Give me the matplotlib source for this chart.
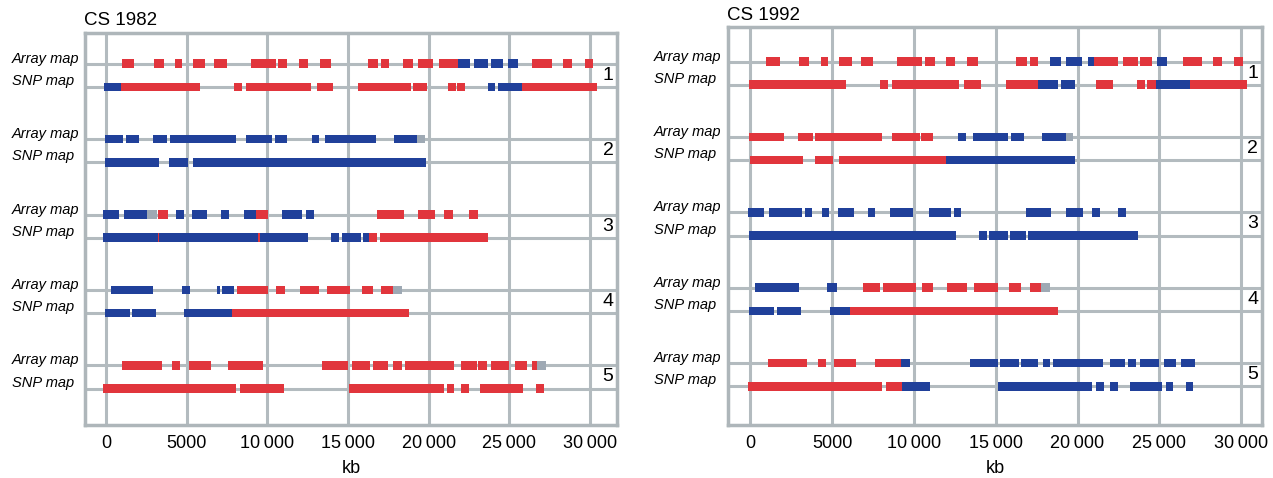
import matplotlib

matplotlib.use("Agg")
import matplotlib.pyplot as plt
from matplotlib.ticker import FuncFormatter

plt.rcParams["font.family"] = ["Liberation Sans", "DejaVu Sans"]

# --------------------------------------------------------------------------- #
# Datos: segmentos (color, inicio kb, fin kb); r = rojo, b = azul, g = gris
# --------------------------------------------------------------------------- #
cs1982_chr1_array = [
    ("r", 970, 1760), ("r", 3000, 3600), ("r", 4280, 4730), ("r", 5370, 6160),
    ("r", 6720, 7520), ("r", 8990, 10540), ("r", 10680, 11240), ("r", 11980, 12540),
    ("r", 13260, 13950), ("r", 16260, 16840), ("r", 17050, 17560), ("r", 18390, 19010),
    ("r", 19360, 20290), ("r", 20660, 21800), ("b", 21800, 22560), ("b", 22830, 23700),
    ("b", 23860, 24590), ("b", 24940, 25560), ("r", 26380, 27620), ("r", 28350, 28860),
    ("r", 29690, 30160),
]
cs1982_chr1_snp = [
    ("b", -100, 910), ("r", 910, 5830), ("r", 7930, 8450), ("r", 8660, 12710),
    ("r", 13060, 14090), ("r", 15640, 18880), ("r", 19050, 19880), ("r", 21180, 21670),
    ("r", 21780, 22250), ("b", 23660, 24110), ("b", 24320, 25800), ("r", 25800, 30410),
]
cs1982_chr2_array = [
    ("b", -60, 1070), ("b", 1240, 2070), ("b", 2930, 3800), ("b", 3970, 8060),
    ("b", 8680, 10270), ("b", 10470, 11200), ("b", 12750, 13220), ("b", 13570, 16740),
    ("b", 17850, 19300), ("g", 19300, 19770),
]
cs1982_chr2_snp = [("b", -60, 3290), ("b", 3900, 5060), ("b", 5410, 19830)]
cs1982_chr3_array = [
    ("b", -160, 830), ("b", 1120, 2520), ("g", 2560, 3140), ("r", 3240, 3820),
    ("b", 4320, 4830), ("b", 5310, 6280), ("b", 7110, 7640), ("b", 8550, 9300),
    ("r", 9300, 10020), ("b", 10930, 12170), ("b", 12400, 12890), ("r", 16820, 18470),
    ("r", 19320, 20390), ("r", 20950, 21490), ("r", 22500, 23040),
]
cs1982_chr3_snp = [
    ("b", -160, 3200), ("r", 3200, 3310), ("b", 3310, 9440), ("r", 9440, 9550),
    ("b", 9550, 12540), ("b", 13930, 14460), ("b", 14630, 15780), ("b", 15950, 16330),
    ("r", 16330, 16820), ("r", 16980, 23700),
]
cs1982_chr4_array = [
    ("b", 290, 2930), ("b", 4690, 5210), ("b", 6900, 7070), ("b", 7210, 7930),
    ("r", 8140, 10060), ("r", 10520, 11100), ("r", 12020, 13220), ("r", 13680, 15120),
    ("r", 15850, 16570), ("r", 17020, 17810), ("g", 17810, 18330),
]
cs1982_chr4_snp = [("b", -60, 1490), ("b", 1590, 3080), ("b", 4860, 7790), ("r", 7790, 18800)]
cs1982_chr5_array = [
    ("r", 1010, 3450), ("r", 4070, 4590), ("r", 5140, 6490), ("r", 7540, 9750),
    ("r", 13410, 15020), ("r", 15270, 16360), ("r", 16570, 17500), ("r", 17810, 18370),
    ("r", 18530, 21570), ("r", 21980, 22970), ("r", 23080, 23590), ("r", 23860, 25000),
    ("r", 25350, 26110), ("r", 26380, 26730), ("g", 26730, 27270),
]
cs1982_chr5_snp = [
    ("r", -200, 8040), ("r", 8310, 11030), ("r", 15080, 20950), ("r", 21120, 21590),
    ("r", 22000, 22520), ("r", 23180, 25830), ("r", 26650, 27150),
]

cs1992_chr1_array = [
    ("r", 980, 1780), ("r", 2990, 3600), ("r", 4290, 4740), ("r", 5390, 6210),
    ("r", 6750, 7520), ("r", 8990, 10510), ("r", 10660, 11290), ("r", 11980, 12480),
    ("r", 13230, 13940), ("r", 16240, 16930), ("r", 17080, 17560), ("b", 18290, 19020),
    ("b", 19290, 20270), ("b", 20630, 21000), ("r", 21000, 22470), ("r", 22780, 23680),
    ("r", 23830, 24560), ("b", 24870, 25500), ("r", 26440, 27590), ("r", 28280, 28840),
    ("r", 29570, 30100),
]
cs1992_chr1_snp = [
    ("r", -60, 5850), ("r", 7940, 8420), ("r", 8670, 12750), ("r", 13060, 14110),
    ("r", 15630, 17560), ("b", 17560, 18810), ("b", 19020, 19860), ("r", 21110, 22150),
    ("r", 23620, 24100), ("r", 24240, 24810), ("b", 24810, 26860), ("r", 26860, 30370),
]
cs1992_chr2_array = [
    ("r", -60, 2050), ("r", 2930, 3830), ("r", 3970, 8050), ("r", 8630, 10350),
    ("r", 10450, 11180), ("b", 12690, 13170), ("b", 13590, 15780), ("b", 15950, 16720),
    ("b", 17830, 19290), ("g", 19290, 19750),
]
cs1992_chr2_snp = [("r", 0, 3240), ("r", 3930, 5060), ("r", 5390, 11960), ("b", 11960, 19860)]
cs1992_chr3_array = [
    ("b", -150, 840), ("b", 1150, 3140), ("b", 3340, 3760), ("b", 4350, 4830),
    ("b", 5330, 6310), ("b", 7170, 7630), ("b", 8530, 9970), ("b", 10910, 12290),
    ("b", 12440, 12900), ("b", 16830, 18390), ("b", 19270, 20340), ("b", 20900, 21380),
    ("b", 22470, 22950),
]
cs1992_chr3_snp = [
    ("b", -100, 12540), ("b", 13960, 14480), ("b", 14570, 15780), ("b", 15880, 16870),
    ("b", 16970, 23680),
]
cs1992_chr4_array = [
    ("b", 310, 2990), ("b", 4700, 5270), ("r", 6900, 7940), ("r", 8110, 10140),
    ("r", 10490, 11140), ("r", 12020, 13230), ("r", 13650, 15110), ("r", 15820, 16570),
    ("r", 17080, 17770), ("g", 17770, 18290),
]
cs1992_chr4_snp = [("b", -60, 1460), ("b", 1610, 3070), ("b", 4870, 6060), ("r", 6060, 18810)]
cs1992_chr5_array = [
    ("r", 1050, 3450), ("r", 4120, 4600), ("r", 5120, 6480), ("r", 7590, 9200),
    ("b", 9200, 9760), ("b", 13440, 15110), ("b", 15260, 16410), ("b", 16570, 17560),
    ("b", 17870, 18330), ("b", 18500, 21530), ("b", 21990, 22890), ("b", 23100, 23560),
    ("b", 23830, 24980), ("b", 25290, 26020), ("b", 26330, 27170),
]
cs1992_chr5_snp = [
    ("r", -150, 8050), ("r", 8320, 9240), ("b", 9240, 11010), ("b", 15110, 20900),
    ("b", 21110, 21590), ("b", 21990, 22470), ("b", 23200, 25190), ("b", 25390, 25810),
    ("b", 26610, 27070),
]

chromosomes = ["1", "2", "3", "4", "5"]
map_labels = ["Array map", "SNP map"]
xticks = [0, 5000, 10000, 15000, 20000, 25000, 30000]

COLORS = {"r": "#e1353c", "b": "#20409a", "g": "#9ea9b4"}
GRID = "#b3bbbf"


def fmt_kb(v, _pos):
    v = int(round(v))
    if v < 10000:
        return f"{v}"
    return f"{v // 1000}\u2009{v % 1000:03d}"


def dibujar_panel(ax, titulo, datos, top, xlim, row0, label_dx, title_pad):
    # posiciones verticales (estilo píxel, eje invertido)
    trans = ax.get_yaxis_transform()
    for i, (arr, snp) in enumerate(datos):
        y_arr = row0 + 75.4 * i
        y_snp = y_arr + 23.2
        for y, segs in ((y_arr, arr), (y_snp, snp)):
            ax.axhline(y, color=GRID, lw=2.2, zorder=1)
            for c, a, b in segs:
                ax.broken_barh([(a, b - a)], (y - 4.3, 8.6),
                               facecolors=COLORS[c], edgecolor="none", zorder=3)
        ax.text(0.983, (y_arr + y_snp) / 2, chromosomes[i], transform=trans,
                ha="center", va="center", fontsize=14)
        ax.annotate(map_labels[0], (0, y_arr - 5), xycoords=trans,
                    xytext=(label_dx, 0), textcoords="offset pixels",
                    ha="left", va="center", fontsize=10.5, style="italic")
        ax.annotate(map_labels[1], (0, y_snp - 6), xycoords=trans,
                    xytext=(label_dx, 0), textcoords="offset pixels",
                    ha="left", va="center", fontsize=10.5, style="italic")

    ax.set_xlim(*xlim)
    ax.set_ylim(425, top)
    ax.set_xticks(xticks)
    ax.xaxis.set_major_formatter(FuncFormatter(fmt_kb))
    ax.set_yticks([])
    ax.tick_params(axis="x", length=0, labelsize=13, pad=7)
    ax.grid(axis="x", color=GRID, lw=2.2, zorder=1)
    ax.set_axisbelow(True)
    for s in ax.spines.values():
        s.set_color("#aeb6ba")
        s.set_linewidth(2.5)
    ax.set_xlabel("kb", fontsize=13, labelpad=6)
    ax.set_title(titulo, loc="left", fontsize=13.5, pad=title_pad, x=-0.002)


fig = plt.figure(figsize=(12.73, 4.78), dpi=100)
W, H = 1273, 478

ax1 = fig.add_axes([85 / W, (H - 425) / H, 532 / W, 392 / H])
ax2 = fig.add_axes([728 / W, (H - 425) / H, 534 / W, 398 / H])

datos_1982 = [
    (cs1982_chr1_array, cs1982_chr1_snp), (cs1982_chr2_array, cs1982_chr2_snp),
    (cs1982_chr3_array, cs1982_chr3_snp), (cs1982_chr4_array, cs1982_chr4_snp),
    (cs1982_chr5_array, cs1982_chr5_snp),
]
datos_1992 = [
    (cs1992_chr1_array, cs1992_chr1_snp), (cs1992_chr2_array, cs1992_chr2_snp),
    (cs1992_chr3_array, cs1992_chr3_snp), (cs1992_chr4_array, cs1992_chr4_snp),
    (cs1992_chr5_array, cs1992_chr5_snp),
]

dibujar_panel(ax1, "CS 1982", datos_1982, 33, (-1300, 31670), 63.8, -73, 6)
dibujar_panel(ax2, "CS 1992", datos_1992, 27, (-1370, 31280), 61.5, -74, 5)

fig.savefig("out.png", dpi=100)
